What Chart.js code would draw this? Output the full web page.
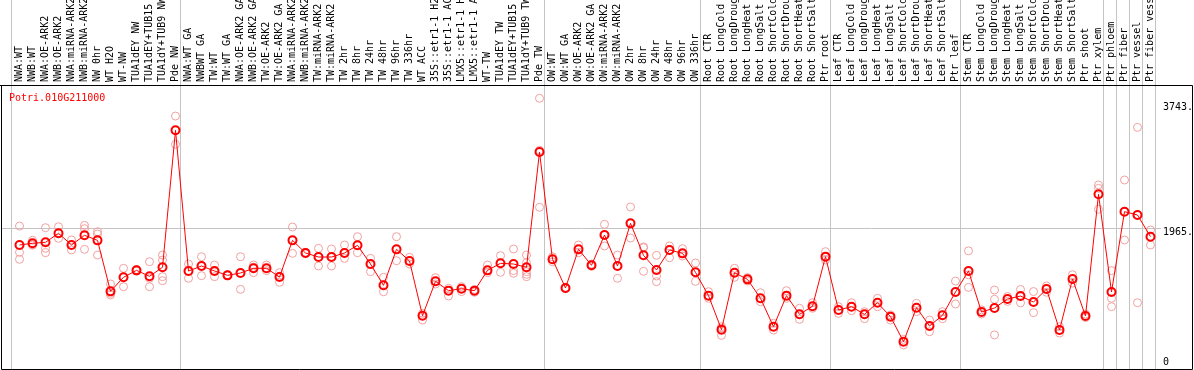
<!DOCTYPE html>
<html>
<head>
<meta charset="utf-8">
<script src="https://cdn.jsdelivr.net/npm/chart.js@4/dist/chart.umd.min.js"></script>
<style>
  html, body { margin: 0; padding: 0; background: #fff; }
  canvas { display: block; }
</style>
</head>
<body>
<canvas id="expChart" width="1194" height="370"></canvas>
<script>
'use strict';

var geneName = 'Potri.010G211000';

var categories = [
  'NWA:WT', 'NWB:WT', 'NWA:OE-ARK2', 'NWB:OE-ARK2', 'NWA:miRNA-ARK2', 'NWB:miRNA-ARK2',
  'NW 0hr', 'WT H2O', 'WT-NW', 'TUA1dEY NW', 'TUA1dEY+TUB15 NW', 'TUA1dY+TUB9 NW', 'Pde NW',
  'NWA:WT GA', 'NWBWT GA', 'TW:WT', 'TW:WT GA', 'NWA:OE-ARK2 GA', 'NWB:OE-ARK2 GA',
  'TW:OE-ARK2', 'TW:OE-ARK2 GA', 'NWA:miRNA-ARK2', 'NWB:miRNA-ARK2', 'TW:miRNA-ARK2', 'TW:miRNA-ARK2',
  'TW 2hr', 'TW 8hr', 'TW 24hr', 'TW 48hr', 'TW 96hr', 'TW 336hr', 'WT ACC',
  '35S::etr1-1 H2O', '35S::etr1-1 ACC', 'LMX5::etr1-1 H2O', 'LMX5::etr1-1 ACC',
  'WT-TW', 'TUA1dEY TW', 'TUA1dEY+TUB15 TW', 'TUA1dY+TUB9 TW', 'Pde TW',
  'OW:WT', 'OW:WT GA', 'OW:OE-ARK2', 'OW:OE-ARK2 GA', 'OW:miRNA-ARK2', 'OW:miRNA-ARK2',
  'OW 2hr', 'OW 8hr', 'OW 24hr', 'OW 48hr', 'OW 96hr', 'OW 336hr',
  'Root CTR', 'Root LongCold', 'Root LongDrought', 'Root LongHeat', 'Root LongSalt',
  'Root ShortCold', 'Root ShortDrought', 'Root ShortHeat', 'Root ShortSalt', 'Ptr root',
  'Leaf CTR', 'Leaf LongCold', 'Leaf LongDrought', 'Leaf LongHeat', 'Leaf LongSalt',
  'Leaf ShortCold', 'Leaf ShortDrought', 'Leaf ShortHeat', 'Leaf ShortSalt', 'Ptr leaf',
  'Stem CTR', 'Stem LongCold', 'Stem LongDrought', 'Stem LongHeat', 'Stem LongSalt',
  'Stem ShortCold', 'Stem ShortDrought', 'Stem ShortHeat', 'Stem ShortSalt', 'Ptr shoot',
  'Ptr xylem', 'Ptr phloem', 'Ptr fiber', 'Ptr vessel', 'Ptr fiber vessel'
];

// mean expression per sample
var means = [
  1723, 1747, 1761, 1889, 1723, 1861, 1789, 1063, 1263, 1362, 1277, 1405, 3355,
  1352, 1424, 1353, 1291, 1324, 1391, 1391, 1267, 1789, 1609, 1552, 1552,
  1609, 1718, 1452, 1149, 1661, 1495, 717, 1206, 1073, 1101, 1073,
  1362, 1462, 1452, 1405, 3046,
  1519, 1111, 1661, 1434, 1865, 1424, 2031, 1576, 1367, 1652, 1604, 1334,
  1002, 518, 1329, 1234, 964, 560, 1002, 736, 850, 1557,
  798, 845, 736, 901, 703, 347, 831, 570, 722, 1054,
  1353, 769, 826, 954, 996, 911, 1096, 513, 1238, 712,
  2444, 1054, 2197, 2150, 1841
];

// single replicates per sample
var replicates = [
  [1993, 1619, 1519], [1790, 1720, 1730], [1969, 1676, 1613], [1983, 1889, 1818],
  [1794, 1723, 1652], [2002, 1955, 1661], [1912, 1879, 1580], [1168, 1035, 1011],
  [1391, 1263, 1129], [1375, 1362, 1350], [1485, 1249, 1129], [1580, 1509, 1272, 1215],
  [3558, 3355, 3156],
  [1452, 1350, 1249], [1556, 1430, 1286], [1438, 1353, 1272], [1300, 1290, 1285],
  [1556, 1324, 1092], [1438, 1405, 1329], [1438, 1391, 1358], [1329, 1280, 1192],
  [1979, 1789, 1604], [1620, 1609, 1600], [1675, 1552, 1424], [1666, 1560, 1424],
  [1723, 1609, 1533], [1841, 1718, 1613], [1533, 1452, 1343], [1263, 1149, 1058],
  [1841, 1661, 1499], [1548, 1495, 1452], [750, 717, 655], [1258, 1206, 1168],
  [1106, 1073, 997], [1130, 1101, 1060], [1090, 1073, 1050],
  [1438, 1362, 1329], [1571, 1462, 1334], [1666, 1358, 1320],
  [1580, 1471, 1405, 1343, 1306, 1272], [3811, 3070, 2259],
  [1556, 1519, 1485], [1120, 1111, 1100], [1723, 1661, 1613], [1450, 1434, 1420],
  [2017, 1865, 1709], [1580, 1424, 1249], [2264, 2031, 1822], [1685, 1695, 1348],
  [1576, 1282, 1201], [1709, 1652, 1542], [1671, 1600, 1566], [1467, 1334, 1206],
  [1058, 1002, 964], [560, 540, 437], [1391, 1329, 1263], [1260, 1234, 1210],
  [1044, 964, 916], [608, 560, 513], [1073, 1002, 964], [822, 736, 665],
  [901, 850, 822], [1628, 1557, 1509],
  [845, 798, 750], [901, 845, 788], [774, 736, 674], [964, 901, 845],
  [727, 703, 655], [380, 347, 300], [893, 831, 774], [655, 570, 489],
  [774, 722, 674], [1210, 1054, 883],
  [1640, 1300, 1120], [800, 769, 740], [1082, 950, 443], [990, 954, 920],
  [1090, 996, 900], [1060, 911, 760], [1140, 1096, 1050], [560, 513, 470],
  [1300, 1238, 1180], [740, 712, 690],
  [2577, 2529, 2231], [1358, 964, 845], [2648, 2197, 1794], [3397, 2150, 901],
  [1936, 1841, 1723]
];

// last sample index of each group (separator drawn after it)
var groupEnds = [-1, 12, 40, 52, 62, 72, 83, 84, 85, 86, 87];

var yTicks      = [0, 1965, 3743];
var yTickLabels = ['0', '1965.', '3743.'];
var gridValue   = 1965;

Chart.defaults.font.family = '"DejaVu Sans Mono", monospace';
Chart.defaults.font.size   = 10;
Chart.defaults.color       = '#000';

var maxReps = Math.max.apply(null, replicates.map(function (r) { return r.length; }));
var repDatasets = [];
for (var k = 0; k < maxReps; k++) {
  repDatasets.push({
    label               : 'rep' + (k + 1),
    data                : replicates.map(function (r) { return r[k] === undefined ? null : r[k]; }),
    showLine            : false,
    pointStyle          : 'circle',
    pointRadius         : 4,
    pointBorderWidth    : 1,
    pointBorderColor    : '#f0a0a0',
    pointBackgroundColor: 'rgba(0,0,0,0)',
    order               : 1
  });
}

// frame, gray separators and the single horizontal grid line
var framePlugin = {
  id: 'frame',
  beforeDatasetsDraw: function (chart) {
    var ctx = chart.ctx, area = chart.chartArea;
    var x = chart.scales.x, y = chart.scales.y;
    var W = chart.width;
    ctx.save();
    ctx.lineWidth = 1;
    ctx.strokeStyle = '#c4c4c4';
    var gy = Math.round(y.getPixelForValue(gridValue)) + 0.5;
    ctx.beginPath();
    ctx.moveTo(2, gy);
    ctx.lineTo(area.right + 4, gy);
    ctx.stroke();
    groupEnds.forEach(function (i) {
      var sx = Math.round(x.getPixelForValue(i) + 5) - 0.5;
      ctx.beginPath();
      ctx.moveTo(sx, 0);
      ctx.lineTo(sx, area.bottom);
      ctx.stroke();
    });
    ctx.strokeStyle = '#000';
    ctx.beginPath();
    ctx.moveTo(0, area.top + 0.5);
    ctx.lineTo(W - 1.5, area.top + 0.5);
    ctx.lineTo(W - 1.5, area.bottom + 0.5);
    ctx.lineTo(1.5, area.bottom + 0.5);
    ctx.lineTo(1.5, area.top + 0.5);
    ctx.stroke();
    ctx.restore();
  },
  beforeDraw: function (chart) {
    // value labels sit just below their level, the 0 label just above it
    chart.scales.y.getLabelItems().forEach(function (item) {
      if (item._moved) return;
      item.options.translation[1] += item.label === '0' ? -4 : 4;
      item._moved = true;
    });
  },
  afterDraw: function (chart) {
    var ctx = chart.ctx, area = chart.chartArea;
    ctx.save();
    ctx.fillStyle = '#ff0000';
    ctx.font = '10px "DejaVu Sans Mono", monospace';
    ctx.textBaseline = 'alphabetic';
    ctx.fillText(geneName, area.left - 4, area.top + 16);
    ctx.restore();
  }
};

var chartData = {
  labels  : categories,
  datasets: [
    {
      label               : geneName,
      data                : means,
      borderColor         : '#ff0000',
      borderWidth         : 1,
      tension             : 0,
      pointStyle          : 'circle',
      pointRadius         : 4,
      pointBorderWidth    : 2,
      pointBorderColor    : '#ff0000',
      pointBackgroundColor: 'rgba(0,0,0,0)',
      order               : 0
    }
  ].concat(repDatasets)
};

var chartOptions = {
  responsive : false,
  animation  : false,
  events     : [],
  layout     : { autoPadding: false, padding: { left: 13, right: 0, top: 0, bottom: 1 } },
  plugins    : { legend: { display: false }, tooltip: { enabled: false } },
  scales     : {
    x: {
      type    : 'category',
      position: 'top',
      offset  : true,
      grid    : { display: false, drawTicks: false },
      border  : { display: false },
      ticks   : { autoSkip: false, minRotation: 90, maxRotation: 90, padding: 3, labelOffset: 12, color: '#000' },
      afterFit: function (scale) {
        scale.height = 85;
        scale.paddingLeft = 0;
        scale.paddingRight = 0;
      }
    },
    y: {
      position: 'right',
      min     : -42,
      max     : 4000,
      grid    : { display: false, drawTicks: false },
      border  : { display: false },
      ticks   : {
        padding : 6,
        color   : '#000',
        callback: function (value) {
          var i = yTicks.indexOf(value);
          return i < 0 ? '' : yTickLabels[i];
        }
      },
      afterBuildTicks: function (scale) {
        scale.ticks = yTicks.map(function (v) { return { value: v }; });
      },
      afterFit: function (scale) {
        scale.width = 37;
        scale.paddingTop = 0;
        scale.paddingBottom = 0;
      }
    }
  }
};

new Chart(document.getElementById('expChart').getContext('2d'), {
  type   : 'line',
  data   : chartData,
  options: chartOptions,
  plugins: [framePlugin]
});
</script>
</body>
</html>
